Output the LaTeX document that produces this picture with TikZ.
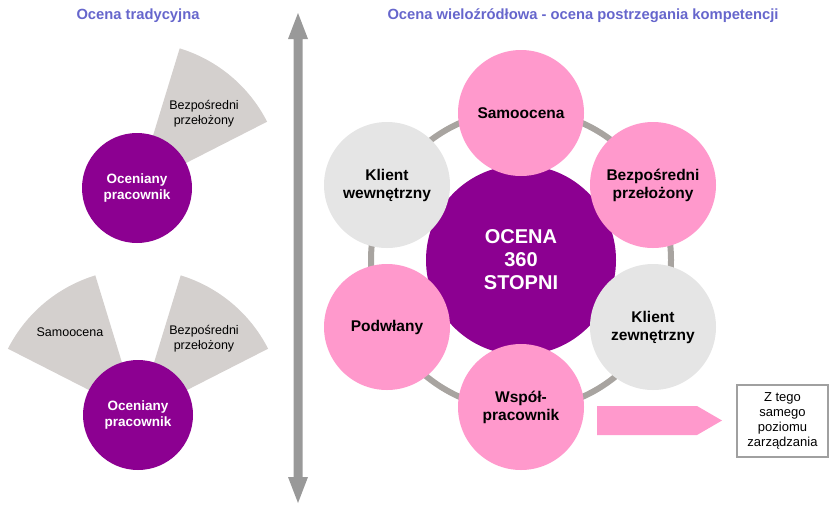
\documentclass[tikz,border=0pt]{standalone}
\usepackage{fontspec}
\setmainfont{Liberation Sans}
\definecolor{plum}{RGB}{140,0,145}
\definecolor{rose}{RGB}{255,153,204}
\definecolor{pale}{RGB}{229,229,229}
\definecolor{wedge}{RGB}{212,208,206}
\definecolor{ringgray}{RGB}{168,164,160}
\definecolor{arrowgray}{RGB}{153,153,153}
\definecolor{heading}{RGB}{102,102,204}
\definecolor{boxline}{RGB}{160,160,160}
\tikzset{
  heading/.style={font=\fontsize{14.75}{17}\selectfont\bfseries, text=heading},
  person/.style={circle, fill=plum, minimum size=110pt, inner sep=0pt, align=center,
    text=white, font=\fontsize{13.5}{16.5}\selectfont\bfseries},
  sector/.style={fill=wedge},
  sectorlabel/.style={align=center, font=\fontsize{12.5}{15}\selectfont},
  hub/.style={circle, fill=plum, minimum size=190pt, inner sep=0pt, align=center,
    text=white, font=\fontsize{20}{23}\selectfont\bfseries},
  rater/.style={circle, minimum size=126pt, inner sep=0pt, align=center,
    font=\fontsize{15.5}{18}\selectfont\bfseries},
  pinkrater/.style={rater, fill=rose},
  grayrater/.style={rater, fill=pale},
  notebox/.style={draw=boxline, line width=1.5pt, fill=white, minimum width=91pt,
    minimum height=72pt, inner sep=0pt, align=center, font=\fontsize{13}{15}\selectfont},
}
\begin{document}
\begin{tikzpicture}[x=1pt, y=-1pt]
\useasboundingbox (0,0) rectangle (829,504);

% headings
\node[heading] (titleL) at (138,16) {Ocena tradycyjna};
\node[heading] (titleR) at (583,16) {Ocena wieloźródłowa - ocena postrzegania kompetencji};

% divider: vertical double-headed arrow
\fill[arrowgray] (298,13) -- (308,39) -- (302.5,39) -- (302.5,477) -- (308,477)
  -- (298,503) -- (288,477) -- (293.5,477) -- (293.5,39) -- (288,39) -- cycle;

% traditional appraisal, one rater
\fill[sector] (137,188) -- +(-27:146) arc[start angle=-27, end angle=-73, radius=146] -- cycle;
\node[sectorlabel] (boss1) at (204,114) {Bezpośredni\\przełożony};
\node[person] (emp1) at (137,188) {Oceniany\\pracownik};

% traditional appraisal, two raters
\fill[sector] (138,415) -- +(-27:146) arc[start angle=-27, end angle=-73, radius=146] -- cycle;
\fill[sector] (138,415) -- +(-107:146) arc[start angle=-107, end angle=-153, radius=146] -- cycle;
\node[sectorlabel] (self2) at (70,332) {Samoocena};
\node[sectorlabel] (boss2) at (204,339) {Bezpośredni\\przełożony};
\node[person] (emp2) at (138,415) {Oceniany\\pracownik};

% 360-degree appraisal
\draw[ringgray, line width=6pt] (521,260) circle[radius=150];
\node[hub] (hub) at (521,260) {OCENA\\360\\STOPNI};
\node[pinkrater] (self) at (521,113) {Samoocena};
\node[pinkrater] (boss) at (653,185) {Bezpośredni\\przełożony};
\node[grayrater] (extc) at (653,327) {Klient\\zewnętrzny};
\node[pinkrater] (peer) at (521,407) {Współ-\\pracownik};
\node[pinkrater] (sub) at (387,327) {Podwłany};
\node[grayrater] (intc) at (387,185) {Klient\\wewnętrzny};

% peer note
\fill[rose] (597,406) -- (697,406) -- (722,420.5) -- (697,435) -- (597,435) -- cycle;
\node[notebox] (note) at (782.5,421) {Z tego\\samego\\poziomu\\zarządzania};
\end{tikzpicture}
\end{document}
